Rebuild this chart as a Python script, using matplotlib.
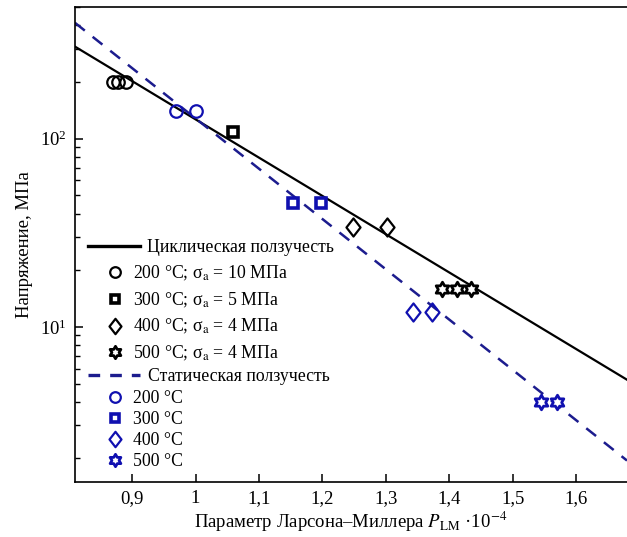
import matplotlib
matplotlib.use("Agg")
import matplotlib.pyplot as plt
import numpy as np
from matplotlib.path import Path
from matplotlib.lines import Line2D
from matplotlib.ticker import FixedLocator, LogLocator, NullFormatter

plt.rcParams['font.family'] = ['Liberation Serif', 'DejaVu Serif']
plt.rcParams['mathtext.fontset'] = 'stix'

# ---------------- data ----------------
# Cyclic creep (black)
cyc_200_x = [0.870, 0.877, 0.890]
cyc_200_y = [200, 200, 200]
cyc_300_x = [1.059]
cyc_300_y = [109]
cyc_400_x = [1.248, 1.301]
cyc_400_y = [34, 34]
cyc_500_x = [1.388, 1.412, 1.434]
cyc_500_y = [15.8, 15.8, 15.8]

# Static creep (blue)
st_200_x = [0.969, 1.000]
st_200_y = [141, 141]
st_300_x = [1.154, 1.198]
st_300_y = [45.7, 45.7]
st_400_x = [1.343, 1.372]
st_400_y = [12.0, 12.0]
st_500_x = [1.545, 1.570]
st_500_y = [4.0, 4.0]

# Fitted lines (end points)
fit_x = [0.81, 1.68]
fit_cyc_y = [308, 5.24]
fit_st_y = [412, 1.95]

x_ticks = [0.9, 1.0, 1.1, 1.2, 1.3, 1.4, 1.5, 1.6]
x_ticklabels = ["0,9", "1", "1,1", "1,2", "1,3", "1,4", "1,5", "1,6"]

cyc_labels = ["Циклическая ползучесть",
              "200 °C; σ$_\\mathrm{a}$ = 10 МПа",
              "300 °C; σ$_\\mathrm{a}$ = 5 МПа",
              "400 °C; σ$_\\mathrm{a}$ = 4 МПа",
              "500 °C; σ$_\\mathrm{a}$ = 4 МПа"]
st_labels = ["Статическая ползучесть", "200 °C", "300 °C", "400 °C", "500 °C"]

# ---------------- style ----------------
BLACK = "black"
BLUE_LINE = "#1c1c8e"
BLUE_MK = "#1010b0"

# hexagram marker (Star of David)
ang_out = np.deg2rad(90 + 60 * np.arange(6))
ang_in = np.deg2rad(120 + 60 * np.arange(6))
r_in = 1 / np.sqrt(3)
verts = []
for ao, ai in zip(ang_out, ang_in):
    verts.append((np.cos(ao), np.sin(ao)))
    verts.append((r_in * np.cos(ai), r_in * np.sin(ai)))
verts.append(verts[0])
codes = [Path.MOVETO] + [Path.LINETO] * 11 + [Path.CLOSEPOLY]
hexagram = Path(verts, codes)

diamond = Path([(0, 1), (0.78, 0), (0, -1), (-0.78, 0), (0, 1)],
               [Path.MOVETO, Path.LINETO, Path.LINETO, Path.LINETO, Path.CLOSEPOLY])

W, H = 627, 537
fig = plt.figure(figsize=(W / 100, H / 100), dpi=100)
ax = fig.add_axes([75 / W, 1 - 482 / H, (627 - 75) / W, (482 - 7) / H])
ax.set_yscale('log')
ax.set_xlim(0.81, 1.68)
ax.set_ylim(1.5, 500)

ax.plot(fit_x, fit_cyc_y, color=BLACK, lw=1.6, zorder=2)
ax.plot(fit_x, fit_st_y, color=BLUE_LINE, lw=1.8, dashes=(5, 4), zorder=2)

mk = dict(linestyle='none', zorder=3)
styles = {
    'o': dict(marker='o', markersize=9, markerfacecolor='none', markeredgewidth=1.6),
    's': dict(marker='s', markersize=7, markerfacecolor='white', markeredgewidth=2.6),
    'd': dict(marker=diamond, markersize=13, markerfacecolor='none', markeredgewidth=1.6),
    'h': dict(marker=hexagram, markersize=10.5, markerfacecolor='white', markeredgewidth=2.0),
}

ax.plot(cyc_200_x, cyc_200_y, color=BLACK, **styles['o'], **mk)
ax.plot(cyc_300_x, cyc_300_y, color=BLACK, **styles['s'], **mk)
ax.plot(cyc_400_x, cyc_400_y, color=BLACK, **styles['d'], **mk)
ax.plot(cyc_500_x, cyc_500_y, color=BLACK, **styles['h'], **mk)
ax.plot(st_200_x, st_200_y, color=BLUE_MK, **styles['o'], **mk)
ax.plot(st_300_x, st_300_y, color=BLUE_MK, **styles['s'], **mk)
ax.plot(st_400_x, st_400_y, color=BLUE_MK, **styles['d'], **mk)
ax.plot(st_500_x, st_500_y, color=BLUE_MK, **styles['h'], **mk)

# axes styling
ax.spines['right'].set_visible(False)
for s in ['left', 'bottom', 'top']:
    ax.spines[s].set_linewidth(1.2)
ax.xaxis.set_major_locator(FixedLocator(x_ticks))
ax.set_xticklabels(x_ticklabels)
ax.yaxis.set_minor_locator(LogLocator(base=10, subs=np.arange(2, 10)))
ax.yaxis.set_minor_formatter(NullFormatter())
ax.tick_params(which='both', direction='in', top=False, right=False, labelsize=13.5)
ax.tick_params(which='major', length=6, width=1.1, pad=6)
ax.tick_params(which='minor', length=3.5, width=1.0)

ax.set_xlabel("Параметр Ларсона–Миллера $P_{\\mathrm{LM}}$ ·10$^{-4}$", fontsize=13.5, labelpad=2)
ax.set_ylabel("Напряжение, МПа", fontsize=13.5, labelpad=5)

# ---------------- legends ----------------
FS = 12.8
fs_px = FS * 100 / 72


def add_legend(handles, labels, x_px, y_px, hl_px, pad_px, spacing):
    leg = ax.legend(handles, labels, loc='upper left',
                    bbox_to_anchor=(x_px / W, 1 - y_px / H),
                    bbox_transform=fig.transFigure, frameon=False,
                    borderpad=0, borderaxespad=0, fontsize=FS,
                    handlelength=hl_px / fs_px, handletextpad=pad_px / fs_px,
                    labelspacing=spacing, numpoints=1)
    ax.add_artist(leg)
    ax.legend_ = None


def mkh(color, key):
    st = dict(styles[key])
    st['markersize'] = st['markersize'] * 0.85
    return Line2D([], [], color=color, linestyle='none', **st)


add_legend([Line2D([], [], color=BLACK, lw=2.4)], cyc_labels[:1], 88, 239, 52, 7, 0.5)
add_legend([mkh(BLACK, k) for k in ['o', 's', 'd', 'h']], cyc_labels[1:],
           107, 264, 16, 10, 0.42)
add_legend([Line2D([], [], color=BLUE_LINE, lw=2.4, dashes=(3.5, 3))], st_labels[:1],
           88, 368, 52, 8, 0.5)
add_legend([mkh(BLUE_MK, k) for k in ['o', 's', 'd', 'h']], st_labels[1:],
           107, 390, 16, 10, 0.22)

fig.savefig("out.png", dpi=100)
